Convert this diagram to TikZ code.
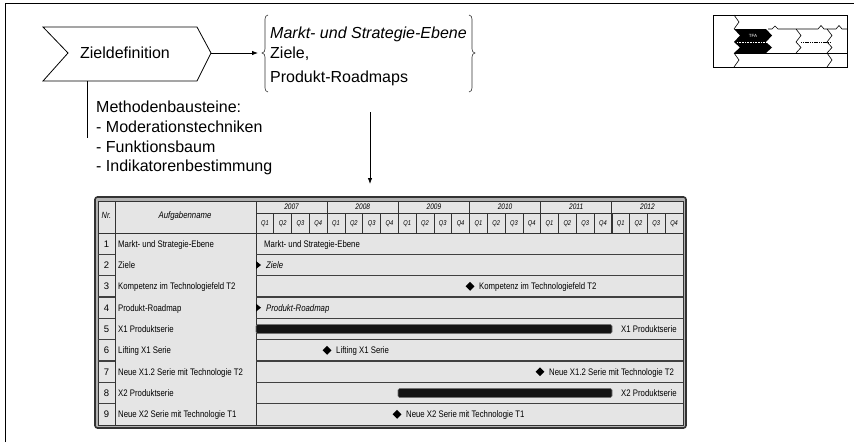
\documentclass[tikz,border=0pt]{standalone}
\usepackage{fontspec}
\setmainfont{Liberation Sans}
\newfontfamily\narrowfont[FakeStretch=0.82]{Liberation Sans}
\usetikzlibrary{arrows.meta,calc,shapes.geometric}

\begin{document}
\begin{tikzpicture}[x=1pt,y=-1pt,
  big/.style={font=\fontsize{16}{19}\selectfont, inner sep=0pt, text height=11.5pt, text depth=0pt},
  small/.style={font=\narrowfont\fontsize{9.5}{11}\selectfont, inner sep=0pt, text height=6.8pt, text depth=0pt},
  nrtext/.style={font=\fontsize{9.5}{11}\selectfont, inner sep=0pt, text height=6.8pt, text depth=0pt},
  yeartext/.style={font=\narrowfont\itshape\fontsize{8}{9}\selectfont, inner sep=0pt, text height=5.7pt, text depth=0pt},
  qtext/.style={font=\narrowfont\itshape\fontsize{7}{8}\selectfont, inner sep=0pt, text height=5pt, text depth=0pt},
  gline/.style={line width=0.8pt, draw=black!80},
  rowline/.style={line width=1.3pt, draw=black!75},
  milestone/.style={diamond, fill=black, minimum size=9pt, inner sep=0pt},
  bar/.style={fill=black!92, draw=black!55, line width=0.6pt, rounded corners=1.5pt},
  link/.style={line width=0.8pt, -{Latex[length=6pt,width=4.5pt]}},
  brace/.style={line width=0.6pt, draw=black!80}
]
\useasboundingbox (0,0) rectangle (854,442);

% page frame (left and top rules)
\draw[line width=1pt] (5,442) -- (5,3) -- (854,3);

% process step chevron
\draw[line width=0.8pt] (43,27) -- (197,27) -- (211,53) -- (197,81) -- (43,81) -- (68,53) -- cycle;
\node[big] (zd) at (125,53) {Zieldefinition};
\coordinate (zdtip) at (211,53);
\coordinate (zdfoot) at (87,81);
\coordinate (methend) at (87,138);
\draw[line width=0.8pt] (zdfoot) -- (methend);

% result block in braces
\node[big, anchor=west] (erg1) at (270,33) {\textit{Markt- und Strategie-Ebene}};
\node[big, anchor=west] (erg2) at (270,53) {Ziele,};
\node[big, anchor=west] (erg3) at (270,77) {Produkt-Roadmaps};
\coordinate (brl) at (262,53);
\coordinate (brr) at (475,53);
\draw[brace] (268,15) to[out=180,in=90] (265,19) -- (265,49) to[out=-90,in=0] (brl)
  to[out=0,in=90] (265,57) -- (265,88) to[out=-90,in=180] (268,92);
\draw[brace] (469,15) to[out=0,in=90] (472,19) -- (472,49) to[out=-90,in=180] (brr)
  to[out=180,in=90] (472,57) -- (472,88) to[out=-90,in=0] (469,92);
\draw[link, shorten >=4pt] (zdtip) -- (brl);

% method building blocks
\node[big, anchor=west] (m0) at (96,107) {Methodenbausteine:};
\node[big, anchor=west] (m1) at (96,127) {- Moderationstechniken};
\node[big, anchor=west] (m2) at (96,147) {- Funktionsbaum};
\node[big, anchor=west] (m3) at (96,166) {- Indikatorenbestimmung};

% arrow down to the plan
\coordinate (arrtop) at (370,112);
\coordinate (arrbot) at (370,184);
\draw[link] (arrtop) -- (arrbot);

% ---------------- Gantt chart ----------------
\draw[line width=1.6pt, draw=black!80, fill=black!30, rounded corners=2.5pt] (95,197) rectangle (686,428);
\draw[gline, fill=black!10] (98,201) rectangle (683,425);

% header
\draw[gline] (98,233) -- (683,233);
\draw[gline] (256,213) -- (683,213);
\draw[gline] (115,201) -- (115,425);
\draw[gline] (256,201) -- (256,425);
\foreach \q in {1,...,23}
  \draw[gline, line width=0.6pt] ({256+17.7917*\q},213) -- ({256+17.7917*\q},233);
\foreach \y in {1,...,5}
  \draw[gline] ({256+71.1667*\y},201) -- ({256+71.1667*\y},233);
\node[nrtext, font=\narrowfont\itshape\fontsize{9}{10}\selectfont] (hnr) at (106.5,215) {Nr.};
\node[small, font=\narrowfont\itshape\fontsize{9.5}{11}\selectfont] (hname) at (185,215) {Aufgabenname};
\foreach \yr [count=\k from 0] in {2007,2008,2009,2010,2011,2012} {
  \node[yeartext] (yr\k) at ({256+71.1667*(\k+0.5)},207) {\yr};
  \foreach \qq [count=\j from 0] in {1,2,3,4}
    \node[qtext] (q\k\j) at ({256+71.1667*\k+17.7917*(\j+0.5)},223) {Q\qq};
}

% row separators
\foreach \i in {1,...,8} {
  \draw[rowline] (98,{233+21.3333*\i}) -- (115,{233+21.3333*\i});
  \draw[rowline] (256,{233+21.3333*\i}) -- (683,{233+21.3333*\i});
}

% row numbers and task names
\foreach \name [count=\i] in {Markt- und Strategie-Ebene,Ziele,Kompetenz im Technologiefeld T2,Produkt-Roadmap,X1 Produktserie,Lifting X1 Serie,Neue X1.2 Serie mit Technologie T2,X2 Produktserie,Neue X2 Serie mit Technologie T1} {
  \node[nrtext] (nr\i) at (106.5,{233+21.3333*(\i-0.5)}) {\i};
  \node[small, anchor=west] (task\i) at (118,{233+21.3333*(\i-0.5)}) {\name};
}

% chart entries
\node[small, anchor=west] (c1) at (264,243.67) {Markt- und Strategie-Ebene};

\fill (256,261) -- (261,265) -- (256,269) -- cycle;
\node[small, anchor=west, font=\narrowfont\itshape\fontsize{9.5}{11}\selectfont] (c2) at (266,265) {Ziele};

\node[milestone] (d3) at (470,286.33) {};
\node[small, anchor=west] (c3) at (479,286.33) {Kompetenz im Technologiefeld T2};

\fill (256,303.67) -- (261,307.67) -- (256,311.67) -- cycle;
\node[small, anchor=west, font=\narrowfont\itshape\fontsize{9.5}{11}\selectfont] (c4) at (266,307.67) {Produkt-Roadmap};

\draw[bar] (256,324.5) rectangle (612,333.5);
\node[small, anchor=west] (c5) at (621,329) {X1 Produktserie};

\node[milestone] (d6) at (327,350.33) {};
\node[small, anchor=west] (c6) at (336,350.33) {Lifting X1 Serie};

\node[milestone] (d7) at (540,371.67) {};
\node[small, anchor=west] (c7) at (549,371.67) {Neue X1.2 Serie mit Technologie T2};

\draw[bar] (398,388.5) rectangle (612,397.5);
\node[small, anchor=west] (c8) at (621,393) {X2 Produktserie};

\node[milestone] (d9) at (397,414.33) {};
\node[small, anchor=west] (c9) at (406,414.33) {Neue X2 Serie mit Technologie T1};

% ---------------- small process map icon ----------------
\draw[line width=0.6pt] (713,15) rectangle (847,67);
\draw[line width=0.6pt] (734,15) -- (739,22) -- (734,29);
\fill (734,29) -- (766,29) -- (772,35.5) -- (766,42) -- (734,42) -- (740,35.5) -- cycle;
\fill (734,42) -- (766,42) -- (772,47.5) -- (766,53) -- (734,53) -- (740,47.5) -- cycle;
\draw[white, dashed, line width=0.5pt, dash pattern=on 1pt off 0.6pt] (737,42) -- (767,42);
\node[font=\fontsize{4.5}{5}\selectfont, text=white, inner sep=0pt] (tfa) at (753,35.5) {TFA};
\draw[line width=0.6pt] (768,29) -- (772,29) -- (775,26) -- (778,29) -- (818,29) -- (821,25.5) -- (824,29)
  -- (836,29) -- (839,25.5) -- (842,29) -- (847,29);
\draw[line width=0.6pt] (796,29) -- (801,35.5) -- (796,42) -- (801,47.5) -- (796,53);
\draw[line width=0.6pt, dash pattern=on 1.2pt off 0.6pt] (801,42) -- (830,42);
\draw[line width=0.6pt] (827,29) -- (832,35.5) -- (827,42) -- (832,47.5) -- (827,53) -- (832,60) -- (827,67);
\draw[line width=0.6pt] (734,53) -- (847,53);
\draw[line width=0.6pt] (734,53) -- (739,60) -- (734,67);
\end{tikzpicture}
\end{document}
